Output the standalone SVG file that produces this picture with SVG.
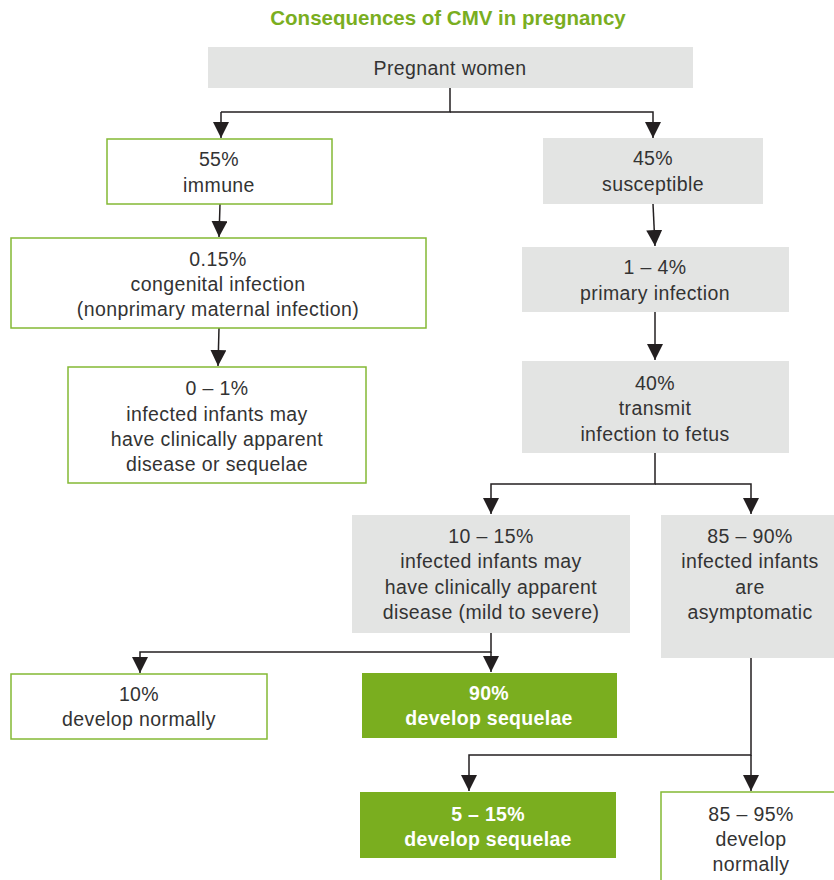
<svg xmlns="http://www.w3.org/2000/svg" width="834" height="880" viewBox="0 0 834 880">
  <defs>
    <marker id="arrow" markerUnits="userSpaceOnUse" markerWidth="16" markerHeight="16" refX="16" refY="8" orient="auto">
      <path d="M0,0 L16,8 L0,16 z" fill="#231f20"/>
    </marker>
  </defs>
  <style>
    .title { font-family: "Liberation Sans", Arial, sans-serif; font-size: 20.5px; font-weight: bold; fill: #7aae1f; text-anchor: middle; }
    .t { font-family: "Liberation Sans", Arial, sans-serif; font-size: 19.5px; letter-spacing: 0.4px; fill: #333333; text-anchor: middle; }
    .tw { font-family: "Liberation Sans", Arial, sans-serif; font-size: 19.5px; font-weight: bold; letter-spacing: 0.3px; fill: #ffffff; text-anchor: middle; }
    .gray { fill: #e3e4e3; }
    .outline { fill: #ffffff; stroke: #84b935; stroke-width: 1.5; }
    .solid { fill: #7aae1f; }
    .conn { fill: none; stroke: #231f20; stroke-width: 1.5; }
  </style>

  <rect width="834" height="880" fill="#ffffff"/>

  <text class="title" x="448" y="25">Consequences of CMV in pregnancy</text>

  <!-- connectors -->
  <g id="connectors">
    <path class="conn" d="M450,88 V112 H221"/>
    <path class="conn" d="M221,112 V138" marker-end="url(#arrow)"/>
    <path class="conn" d="M450,112 H653 V138" marker-end="url(#arrow)"/>
    <path class="conn" d="M220,204 L219,237" marker-end="url(#arrow)"/>
    <path class="conn" d="M219,328 L218,366" marker-end="url(#arrow)"/>
    <path class="conn" d="M653,204 L655,246" marker-end="url(#arrow)"/>
    <path class="conn" d="M655,312 V360" marker-end="url(#arrow)"/>
    <path class="conn" d="M655,453 V484 H491 V514" marker-end="url(#arrow)"/>
    <path class="conn" d="M655,484 H751 V514" marker-end="url(#arrow)"/>
    <path class="conn" d="M491,633 V652 H140 V673" marker-end="url(#arrow)"/>
    <path class="conn" d="M491,652 V672" marker-end="url(#arrow)"/>
    <path class="conn" d="M751,658 V755 H469 V791" marker-end="url(#arrow)"/>
    <path class="conn" d="M751,755 V791" marker-end="url(#arrow)"/>
  </g>

  <g id="pregnant-women">
    <rect class="gray" x="208" y="47" width="485" height="41"/>
    <text class="t" x="450" y="75">Pregnant women</text>
  </g>

  <g id="immune">
    <rect class="outline" x="107" y="139" width="225" height="65"/>
    <text class="t" x="219" y="166">55%</text>
    <text class="t" x="219" y="192">immune</text>
  </g>

  <g id="congenital-nonprimary">
    <rect class="outline" x="11" y="238" width="415" height="90"/>
    <text class="t" x="218" y="266">0.15%</text>
    <text class="t" x="218" y="291">congenital infection</text>
    <text class="t" x="218" y="316">(nonprimary maternal infection)</text>
  </g>

  <g id="nonprimary-outcome">
    <rect class="outline" x="68" y="367" width="298" height="116"/>
    <text class="t" x="217" y="395">0 – 1%</text>
    <text class="t" x="217" y="421">infected infants may</text>
    <text class="t" x="217" y="446">have clinically apparent</text>
    <text class="t" x="217" y="471">disease or sequelae</text>
  </g>

  <g id="susceptible">
    <rect class="gray" x="543" y="138" width="220" height="66"/>
    <text class="t" x="653" y="165">45%</text>
    <text class="t" x="653" y="191">susceptible</text>
  </g>

  <g id="primary-infection">
    <rect class="gray" x="522" y="247" width="267" height="65"/>
    <text class="t" x="655" y="274">1 – 4%</text>
    <text class="t" x="655" y="300">primary infection</text>
  </g>

  <g id="transmit">
    <rect class="gray" x="522" y="361" width="267" height="92"/>
    <text class="t" x="655" y="390">40%</text>
    <text class="t" x="655" y="415">transmit</text>
    <text class="t" x="655" y="441">infection to fetus</text>
  </g>

  <g id="symptomatic">
    <rect class="gray" x="352" y="515" width="278" height="118"/>
    <text class="t" x="491" y="543">10 – 15%</text>
    <text class="t" x="491" y="568">infected infants may</text>
    <text class="t" x="491" y="594">have clinically apparent</text>
    <text class="t" x="491" y="619">disease (mild to severe)</text>
  </g>

  <g id="asymptomatic">
    <rect class="gray" x="661" y="515" width="180" height="143"/>
    <text class="t" x="750" y="543">85 – 90%</text>
    <text class="t" x="750" y="568">infected infants</text>
    <text class="t" x="750" y="594">are</text>
    <text class="t" x="750" y="619">asymptomatic</text>
  </g>

  <g id="symptomatic-normal">
    <rect class="outline" x="11" y="674" width="256" height="65"/>
    <text class="t" x="139" y="701">10%</text>
    <text class="t" x="139" y="726">develop normally</text>
  </g>

  <g id="symptomatic-sequelae">
    <rect class="solid" x="362" y="673" width="255" height="65"/>
    <text class="tw" x="489" y="700">90%</text>
    <text class="tw" x="489" y="725">develop sequelae</text>
  </g>

  <g id="asymptomatic-sequelae">
    <rect class="solid" x="360" y="792" width="256" height="66"/>
    <text class="tw" x="488" y="821">5 – 15%</text>
    <text class="tw" x="488" y="846">develop sequelae</text>
  </g>

  <g id="asymptomatic-normal">
    <rect class="outline" x="661" y="792" width="180" height="100"/>
    <text class="t" x="751" y="821">85 – 95%</text>
    <text class="t" x="751" y="846">develop</text>
    <text class="t" x="751" y="871">normally</text>
  </g>
</svg>
